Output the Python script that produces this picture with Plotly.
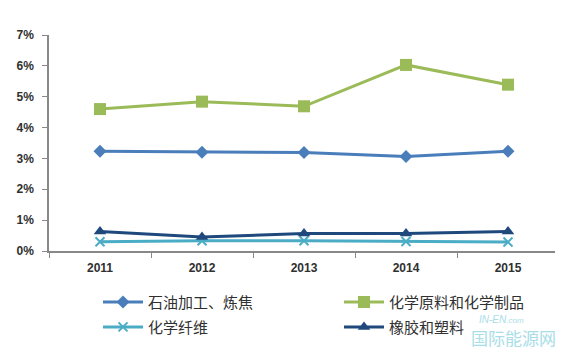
import plotly.graph_objects as go

years = ["2011", "2012", "2013", "2014", "2015"]
petroleum = [3.23, 3.20, 3.19, 3.06, 3.23]
chemical = [4.60, 4.84, 4.69, 6.03, 5.39]
fiber = [0.30, 0.33, 0.33, 0.31, 0.29]
rubber = [0.63, 0.45, 0.57, 0.57, 0.63]
names = ["石油加工、炼焦", "化学原料和化学制品", "化学纤维", "橡胶和塑料"]
y_ticks = [0, 1, 2, 3, 4, 5, 6, 7]

series = [
    (names[0], petroleum, "#4A7EBB", "diamond", 10, "legend"),
    (names[1], chemical, "#9BBB59", "square", 12, "legend2"),
    (names[2], fiber, "#4BACC6", "x-thin-open", 9, "legend3"),
    (names[3], rubber, "#1F497D", "triangle-up", 11, "legend4"),
]

fig = go.Figure()
for name, vals, color, sym, size, lg in series:
    mk = dict(symbol=sym, size=size, color=color)
    if sym == "x-thin-open":
        mk["line"] = dict(color=color, width=2)
    fig.add_trace(go.Scatter(
        x=years, y=[v / 100 for v in vals], name=name, mode="lines+markers",
        line=dict(color=color, width=3), marker=mk, legend=lg,
    ))

# page body has a default 8px margin; compensate so the plot lands where the reference has it
OFF = 8
PL, PR, PT, PB = 49, 559, 34.5, 251.5  # plot area in screen pixels


def px_x(X):
    return (X - PL) / (PR - PL)


def px_y(Y):
    return (PB - Y) / (PB - PT)


# watermark
fig.add_annotation(x=px_x(477), y=px_y(320), xref="paper", yref="paper",
                   text="<i>IN-EN<span style='font-size:8px'>.com</span></i>", showarrow=False,
                   font=dict(size=10, color="#A8DDE8", family="Liberation Sans"),
                   xanchor="left", yanchor="middle")
fig.add_annotation(x=px_x(558), y=px_y(338), xref="paper", yref="paper",
                   text="国际能源网", showarrow=False,
                   font=dict(size=17, color="#A9DEE8", family="Noto Sans CJK SC"),
                   xanchor="right", yanchor="middle")

legend_common = dict(orientation="v", xanchor="left", yanchor="middle",
                     font=dict(size=15, family="Noto Sans CJK SC", color="#303030"),
                     itemwidth=40, bgcolor="rgba(0,0,0,0)", tracegroupgap=0)

W, H = 563, 356
fig.update_layout(
    width=W - OFF, height=H - OFF,
    margin=dict(l=PL - OFF, r=W - PR, t=PT - OFF, b=H - PB, autoexpand=False),
    paper_bgcolor="white", plot_bgcolor="white",
    font=dict(family="Liberation Sans", color="#404040"),
    showlegend=True,
    legend=dict(x=px_x(98), y=px_y(303), **legend_common),
    legend2=dict(x=px_x(339), y=px_y(303), **legend_common),
    legend3=dict(x=px_x(98), y=px_y(328), **legend_common),
    legend4=dict(x=px_x(339), y=px_y(328), **legend_common),
    xaxis=dict(type="category", showgrid=False, showline=True, linecolor="#888888", linewidth=1.5,
               ticks="outside", ticklen=5, tickcolor="#888888", tickson="boundaries",
               tickfont=dict(size=12, family="Liberation Sans", color="#303030"),
               tickprefix="<b>", ticksuffix="</b>", range=[-0.5, 4.5], ticklabelstandoff=5),
    yaxis=dict(range=[0, 0.07], tickvals=[t / 100 for t in y_ticks],
               ticktext=[f"<b>{t}%</b>" for t in y_ticks],
               showgrid=False, showline=True, linecolor="#888888", linewidth=1.5,
               ticks="outside", ticklen=5, tickcolor="#888888", zeroline=False,
               tickfont=dict(size=12, family="Liberation Sans", color="#303030"),
               ticklabelstandoff=6),
)

fig.write_html("out.html")
